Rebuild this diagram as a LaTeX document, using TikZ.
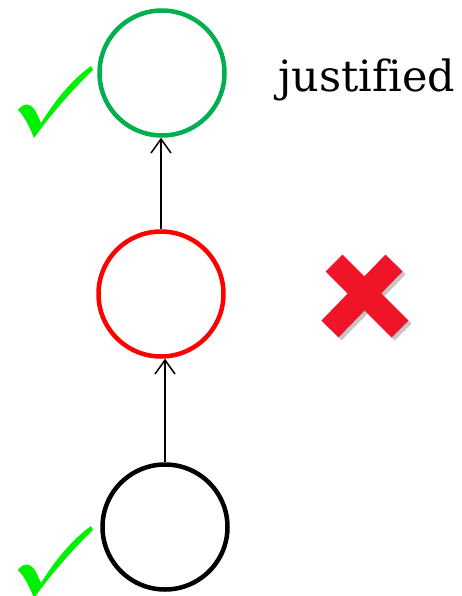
\documentclass[tikz,border=0pt]{standalone}
\usepackage{fontspec}
\usetikzlibrary{arrows.meta}
\newfontfamily\labelfont[Ligatures=NoCommon]{DejaVu Serif}

\definecolor{ringgreen}{RGB}{0,176,80}
\definecolor{checkgreen}{RGB}{0,240,0}
\definecolor{crossred}{RGB}{240,20,40}

\tikzset{
    ring/.style={circle, draw, line width=4.5pt, minimum size=125pt, inner sep=0pt},
    link/.style={line width=1.5pt, -{Straight Barb[length=14pt,width=20pt,line width=1.5pt]}},
}

\newcommand{\checkmark}[1]{%
    \fill[checkgreen, shift={(0,#1)}] (18,110) .. controls (24,102) and (31,103) .. (36,112)
        -- (41,123) .. controls (56,99) and (72,80) .. (91,66) -- (93,70)
        .. controls (70,92) and (50,116) .. (34,138)
        .. controls (30,128) and (25,117) .. (18,110) -- cycle;}

\begin{document}
\begin{tikzpicture}[x=1pt, y=-1pt]
    \useasboundingbox (0,0) rectangle (461,596);

    
    \node[ring, draw=ringgreen] (top) at (162,73) {};
    \node[ring, draw=red] (mid) at (161,294) {};
    \node[ring, draw=black] (bot) at (165,527) {};

    
    \draw[link] (mid.north) -- (mid.north |- top.south);
    \draw[link] (bot.north) -- (bot.north |- mid.south);

    
    \checkmark{0}
    \checkmark{460}

    
    \node[anchor=base west, inner sep=0pt] (lbl) at (278,92) {\fontsize{43}{50}\labelfont justified};

    
    \draw[gray!45, line width=24pt] (337,266) -- (403,332);
    \draw[gray!45, line width=24pt] (397,266) -- (333,332);
    \draw[crossred, line width=24pt] (334,263) -- (400,329);
    \draw[crossred, line width=24pt] (394,263) -- (330,329);
\end{tikzpicture}
\end{document}
